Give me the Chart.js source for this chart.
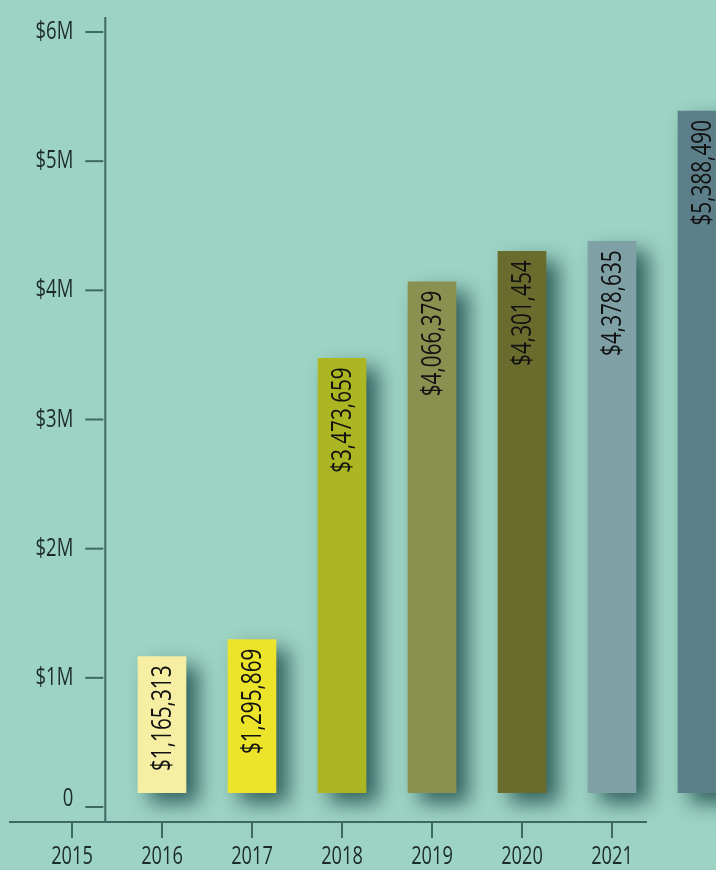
<!DOCTYPE html>
<html><head><meta charset="utf-8">
<script src="https://cdn.jsdelivr.net/npm/chart.js@4"></script>
<style>
html,body{margin:0;padding:0;background:#9dd3c4;overflow:hidden;width:716px;height:870px}
#wrap{position:relative;width:747px;height:870px}
</style></head><body><div id="wrap"><canvas id="c"></canvas></div>
<script>
const categories = ['2015','2016','2017','2018','2019','2020','2021','2022'];
const xTickLabels = ['2015','2016','2017','2018','2019','2020','2021'];
const values = [null, 1165313, 1295869, 3473659, 4066379, 4301454, 4378635, 5388490];
const yTickValues = [0, 1000000, 2000000, 3000000, 4000000, 5000000, 6000000];
const yTickLabels = ['0', '$1M', '$2M', '$3M', '$4M', '$5M', '$6M'];
const barColors = ['#000000', '#f6eea2', '#ece32b', '#acb622', '#8a9150', '#6a6c2e', '#7fa1a6', '#5d7f89'];

const FONT = '"Open Sans", Roboto, sans-serif';
const TEXT = '#1c2a29';
const AXIS = '#3d6964';

function scaledText(ctx, text, x, y, sx, rot) {
  ctx.save();
  ctx.translate(x, y);
  if (rot) ctx.rotate(rot);
  ctx.scale(sx, 1);
  ctx.fillText(text, 0, 0);
  ctx.restore();
}

const plugin = {
  id: 'custom',
  beforeDatasetsDraw(chart) {
    const ctx = chart.ctx;
    ctx.save();
    ctx.shadowColor = 'rgba(15,60,60,0.75)';
    ctx.shadowBlur = 20;
    ctx.shadowOffsetX = 12;
    ctx.shadowOffsetY = 10;
  },
  afterDatasetsDraw(chart) {
    const ctx = chart.ctx;
    ctx.restore();
    const meta = chart.getDatasetMeta(0);
    ctx.save();
    ctx.fillStyle = '#111';
    ctx.font = '28px ' + FONT;
    ctx.textAlign = 'right';
    ctx.textBaseline = 'middle';
    meta.data.forEach((bar, i) => {
      const v = values[i];
      if (v == null) return;
      scaledText(ctx, '$' + v.toLocaleString('en-US'), bar.x + 1, bar.y + 9, 0.74, -Math.PI / 2);
    });
    ctx.restore();
  },
  afterDraw(chart) {
    const ctx = chart.ctx;
    const xs = chart.scales.x, ys = chart.scales.y;
    const step = xs.getPixelForValue(1) - xs.getPixelForValue(0);
    const yAxisX = xs.getPixelForValue(0) + step * 0.37;
    const xAxisY = ys.getPixelForValue(0) + 15;
    ctx.save();
    ctx.strokeStyle = AXIS;
    ctx.lineWidth = 2;
    ctx.beginPath();
    ctx.moveTo(yAxisX, ys.getPixelForValue(6000000) - 15);
    ctx.lineTo(yAxisX, xAxisY);
    ctx.stroke();
    ctx.font = '25px ' + FONT;
    ctx.fillStyle = TEXT;
    ctx.textAlign = 'right';
    ctx.textBaseline = 'middle';
    yTickValues.forEach((v, i) => {
      const y = ys.getPixelForValue(v);
      ctx.beginPath();
      ctx.moveTo(yAxisX - 20, y);
      ctx.lineTo(yAxisX - 2, y);
      ctx.stroke();
      scaledText(ctx, yTickLabels[i], yAxisX - 32, i === 0 ? y - 8 : y, 0.74);
    });
    ctx.beginPath();
    ctx.moveTo(xs.getPixelForValue(0) - 63, xAxisY);
    ctx.lineTo(xs.getPixelForValue(6) + 35, xAxisY);
    ctx.stroke();
    ctx.textAlign = 'center';
    ctx.font = '26px ' + FONT;
    xTickLabels.forEach((lab, i) => {
      const x = xs.getPixelForValue(i);
      ctx.beginPath();
      ctx.moveTo(x, xAxisY);
      ctx.lineTo(x, xAxisY + 16);
      ctx.stroke();
      scaledText(ctx, lab, x, xAxisY + 35, 0.7);
    });
    ctx.restore();
  }
};

new Chart(document.getElementById('c'), {
  type: 'bar',
  data: {
    labels: categories,
    datasets: [{
      data: values,
      backgroundColor: barColors,
      borderWidth: 0,
      barThickness: 48,
      base: 110000,
      clip: false
    }]
  },
  options: {
    responsive: true,
    maintainAspectRatio: false,
    animation: false,
    layout: { padding: { left: 27, right: 0, top: 32, bottom: 63 } },
    scales: {
      x: { display: false, offset: true },
      y: { display: false, min: 0, max: 6000000 }
    },
    plugins: { legend: { display: false }, tooltip: { enabled: false } }
  },
  plugins: [plugin]
});
</script></body></html>
